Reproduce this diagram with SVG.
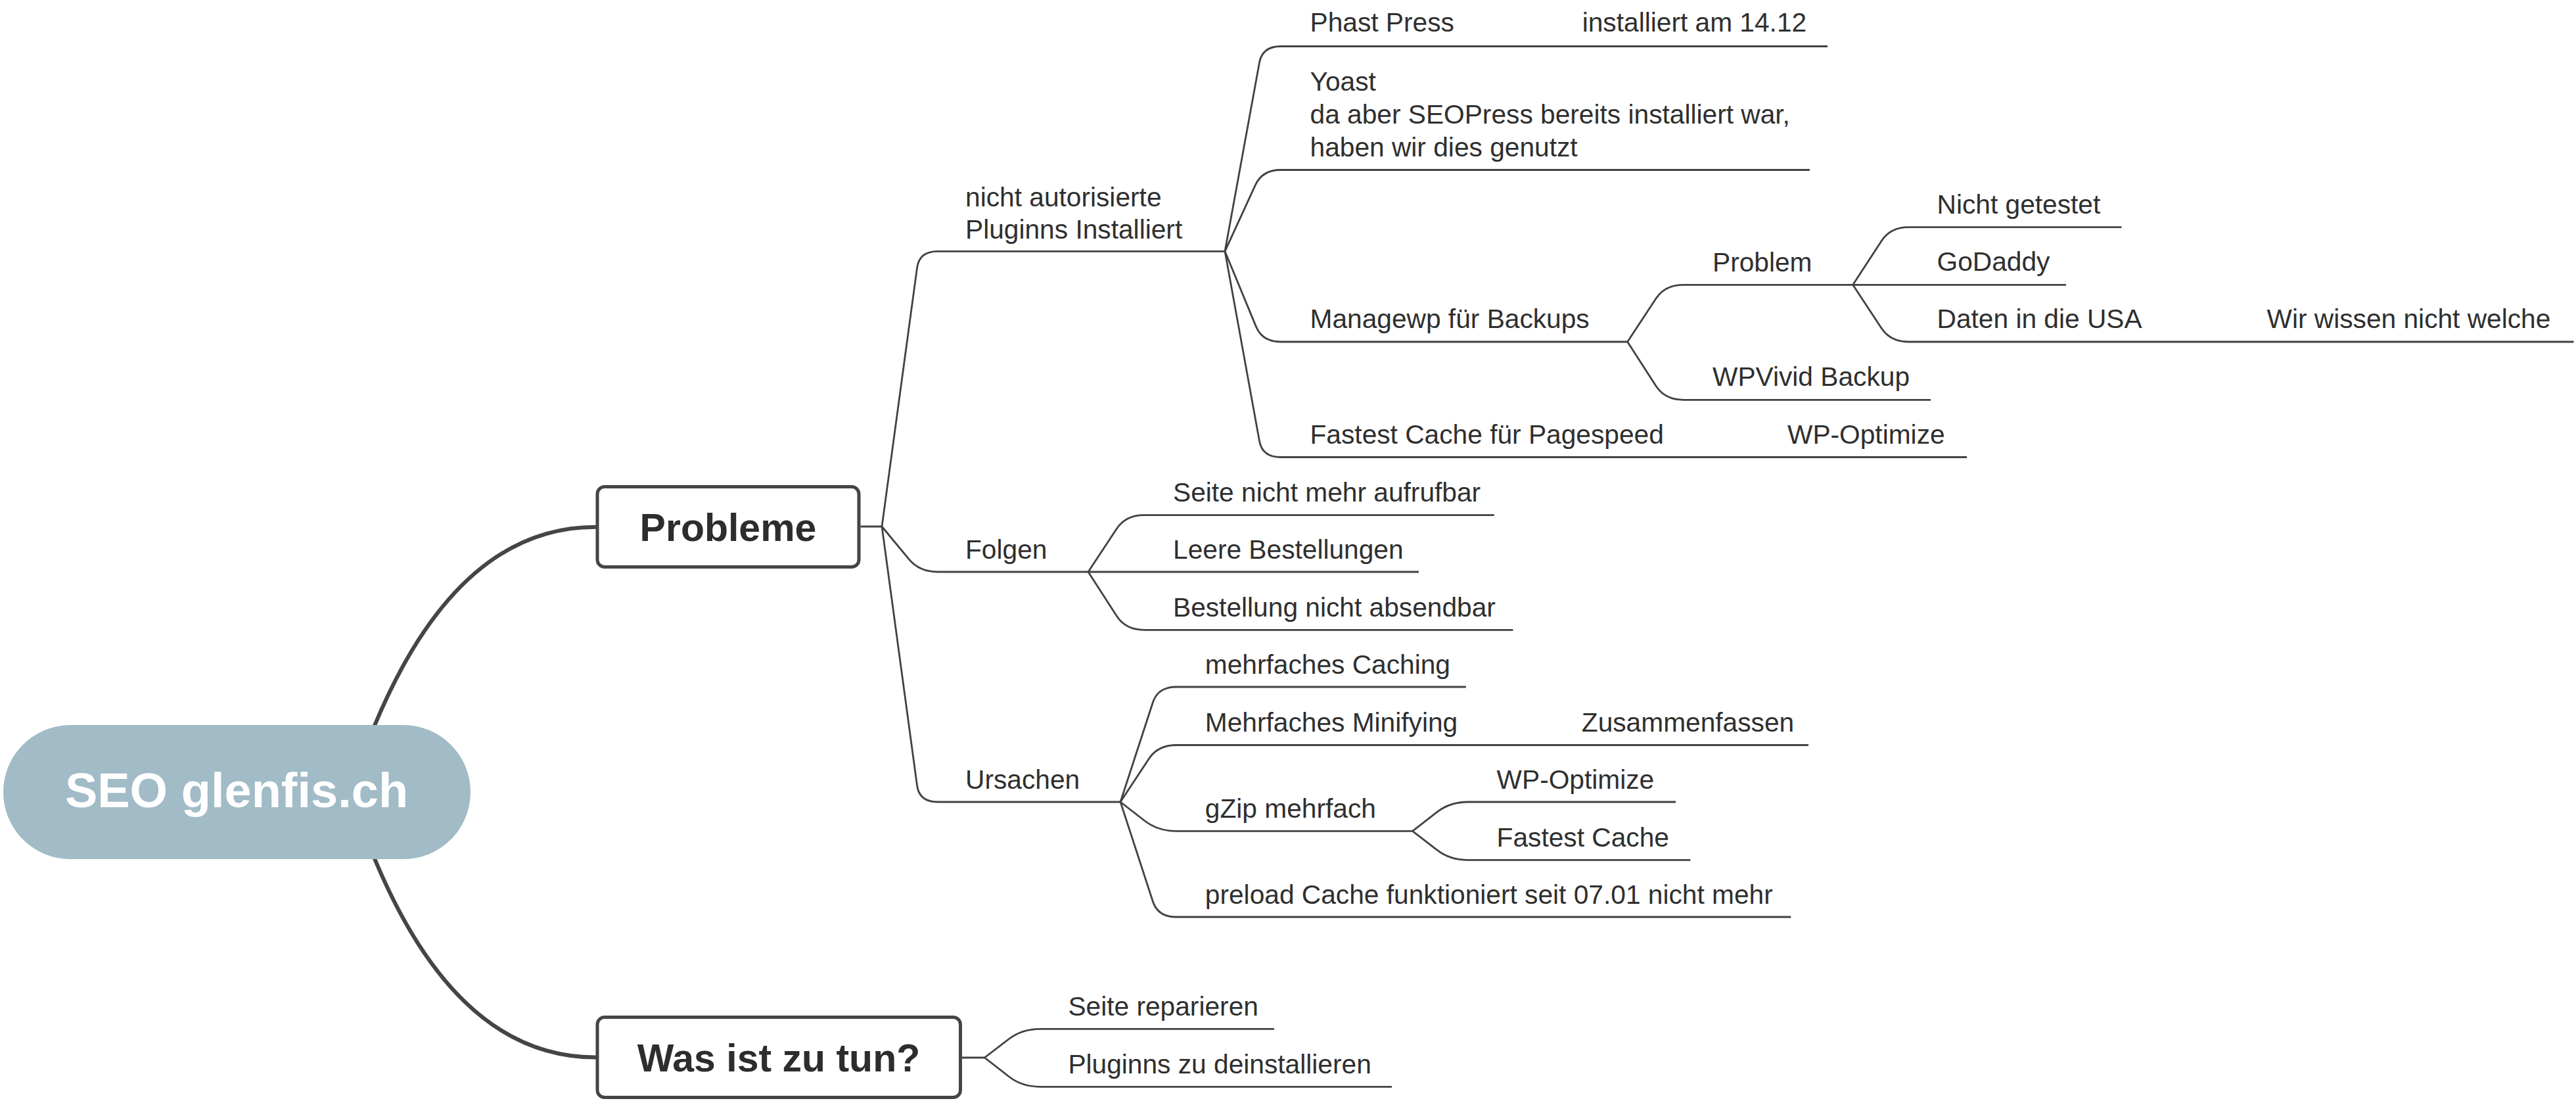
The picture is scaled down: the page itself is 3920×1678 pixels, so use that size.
<svg xmlns="http://www.w3.org/2000/svg" width="3920" height="1678" viewBox="0 0 3920 1678">
<style>
.bg{fill:#ffffff}
.root-curve{fill:none;stroke:#454545;stroke-width:6;stroke-linecap:round}
.conn{fill:none;stroke:#424242;stroke-width:2.8;stroke-linejoin:round}
.box{fill:#ffffff;stroke:#454545;stroke-width:5}
.pill{fill:#a1bbc7}
.t{font-family:"Liberation Sans",Arial,sans-serif;font-size:40.7px;fill:#2f2f2f}
.tb{font-family:"Liberation Sans",Arial,sans-serif;font-size:59px;font-weight:bold;fill:#2d2d2d;text-anchor:middle}
.troot{font-family:"Liberation Sans",Arial,sans-serif;font-size:74px;font-weight:bold;fill:#ffffff;text-anchor:middle}
</style>
<rect class="bg" x="0" y="0" width="3920" height="1678"/>
<g id="connectors">
<path class="root-curve" d="M533 1205 Q663 801.7 906 801.7"/>
<path class="root-curve" d="M533 1205 Q663 1608.5 906 1608.5"/>
<path class="conn" d="M1309.5 801 H1342"/>
<path class="conn" d="M1342 801 L1395.6 407.1 Q1399 382.3 1427 382.3 H1864"/>
<path class="conn" d="M1342 801 L1383.1 850.7 Q1399 870 1427 870 H1656"/>
<path class="conn" d="M1342 801 L1395.6 1195.2 Q1399 1220 1427 1220 H1705"/>
<path class="conn" d="M1864 382.3 L1916.5 95.1 Q1921 70.5 1949 70.5 H2781"/>
<path class="conn" d="M1864 382.3 L1910.5 281.2 Q1921 258.5 1949 258.5 H2754"/>
<path class="conn" d="M1864 382.3 L1911.4 496.9 Q1921 520 1949 520 H2476.6"/>
<path class="conn" d="M1864 382.3 L1916.5 670.9 Q1921 695.5 1949 695.5 H2993"/>
<path class="conn" d="M2476.6 520 L2519.9 454.2 Q2533.6 433.3 2561.6 433.3 H2819.6"/>
<path class="conn" d="M2476.6 520 L2520 587.3 Q2533.6 608.3 2561.6 608.3 H2938"/>
<path class="conn" d="M2819.6 433.3 L2863 366.7 Q2876.6 345.7 2904.6 345.7 H3228.5"/>
<path class="conn" d="M2819.6 433.3 H3144"/>
<path class="conn" d="M2819.6 433.3 L2862.9 499.1 Q2876.6 520 2904.6 520 H3916.6"/>
<path class="conn" d="M1656 870 L1699.2 804.6 Q1713 783.7 1741 783.7 H2273.8"/>
<path class="conn" d="M1656 870 H2159"/>
<path class="conn" d="M1656 870 L1699.4 937.3 Q1713 958.3 1741 958.3 H2302.5"/>
<path class="conn" d="M1705 1220 L1754.3 1068.8 Q1762 1045 1790 1045 H2230.8"/>
<path class="conn" d="M1705 1220 L1748.2 1154.4 Q1762 1133.5 1790 1133.5 H2752"/>
<path class="conn" d="M1705 1220 L1742.3 1249 Q1762 1264.3 1790 1264.3 H2149.5"/>
<path class="conn" d="M1705 1220 L1754.3 1371.2 Q1762 1395 1790 1395 H2725.3"/>
<path class="conn" d="M2149.5 1264.3 L2186.8 1235.3 Q2206.5 1220 2234.5 1220 H2550"/>
<path class="conn" d="M2149.5 1264.3 L2186.8 1293.1 Q2206.5 1308.4 2234.5 1308.4 H2572.3"/>
<path class="conn" d="M1464 1609 H1498.3"/>
<path class="conn" d="M1498.3 1609 L1535.5 1580.5 Q1555.3 1565.3 1583.3 1565.3 H1939"/>
<path class="conn" d="M1498.3 1609 L1535.6 1638 Q1555.3 1653.3 1583.3 1653.3 H2118"/>
</g>
<g id="root">
<rect class="pill" x="5" y="1103" width="711" height="204" rx="102"/>
<text class="troot" x="360" y="1228">SEO glenfis.ch</text>
</g>
<g id="probleme">
<rect class="box" x="909" y="740.5" width="398" height="122" rx="11"/>
<text class="tb" x="1108" y="823">Probleme</text>
</g>
<g id="was-ist-zu-tun">
<rect class="box" x="909" y="1547.5" width="552.5" height="122" rx="11"/>
<text class="tb" x="1185" y="1630">Was ist zu tun?</text>
</g>
<g id="nicht-autorisierte">
<text class="t" x="1469" y="313.6">nicht autorisierte</text>
<text class="t" x="1469" y="362.8">Pluginns Installiert</text>
</g>
<g id="phast-press"><text class="t" x="1993.5" y="48">Phast Press</text></g>
<g id="installiert-am"><text class="t" x="2407.7" y="48">installiert am 14.12</text></g>
<g id="yoast">
<text class="t" x="1993.5" y="137.8">Yoast</text>
<text class="t" x="1993.5" y="187.5">da aber SEOPress bereits installiert war,</text>
<text class="t" x="1993.5" y="237.5">haben wir dies genutzt</text>
</g>
<g id="managewp"><text class="t" x="1993.5" y="498.5">Managewp für Backups</text></g>
<g id="problem"><text class="t" x="2606" y="412.5">Problem</text></g>
<g id="nicht-getestet"><text class="t" x="2947.5" y="324.5">Nicht getestet</text></g>
<g id="godaddy"><text class="t" x="2947.5" y="412">GoDaddy</text></g>
<g id="daten-usa"><text class="t" x="2947.5" y="499">Daten in die USA</text></g>
<g id="wir-wissen"><text class="t" x="3449.5" y="499">Wir wissen nicht welche</text></g>
<g id="wpvivid"><text class="t" x="2606" y="587">WPVivid Backup</text></g>
<g id="fastest-cache-pagespeed"><text class="t" x="1993.5" y="675">Fastest Cache für Pagespeed</text></g>
<g id="wp-optimize-1"><text class="t" x="2720" y="675">WP-Optimize</text></g>
<g id="folgen"><text class="t" x="1469" y="849.5">Folgen</text></g>
<g id="seite-nicht-aufrufbar"><text class="t" x="1785" y="762.5">Seite nicht mehr aufrufbar</text></g>
<g id="leere-bestellungen"><text class="t" x="1785" y="849.5">Leere Bestellungen</text></g>
<g id="bestellung-nicht-absendbar"><text class="t" x="1785" y="937.5">Bestellung nicht absendbar</text></g>
<g id="ursachen"><text class="t" x="1469" y="1199.5">Ursachen</text></g>
<g id="mehrfaches-caching"><text class="t" x="1833.8" y="1024.5">mehrfaches Caching</text></g>
<g id="mehrfaches-minifying"><text class="t" x="1833.8" y="1112.5">Mehrfaches Minifying</text></g>
<g id="zusammenfassen"><text class="t" x="2406.8" y="1112.5">Zusammenfassen</text></g>
<g id="gzip"><text class="t" x="1833.8" y="1243.8">gZip mehrfach</text></g>
<g id="wp-optimize-2"><text class="t" x="2277.6" y="1199.5">WP-Optimize</text></g>
<g id="fastest-cache"><text class="t" x="2277.6" y="1287.6">Fastest Cache</text></g>
<g id="preload"><text class="t" x="1833.8" y="1374.5">preload Cache funktioniert seit 07.01 nicht mehr</text></g>
<g id="seite-reparieren"><text class="t" x="1625.4" y="1545">Seite reparieren</text></g>
<g id="pluginns-deinstallieren"><text class="t" x="1625.4" y="1633">Pluginns zu deinstallieren</text></g>
</svg>
